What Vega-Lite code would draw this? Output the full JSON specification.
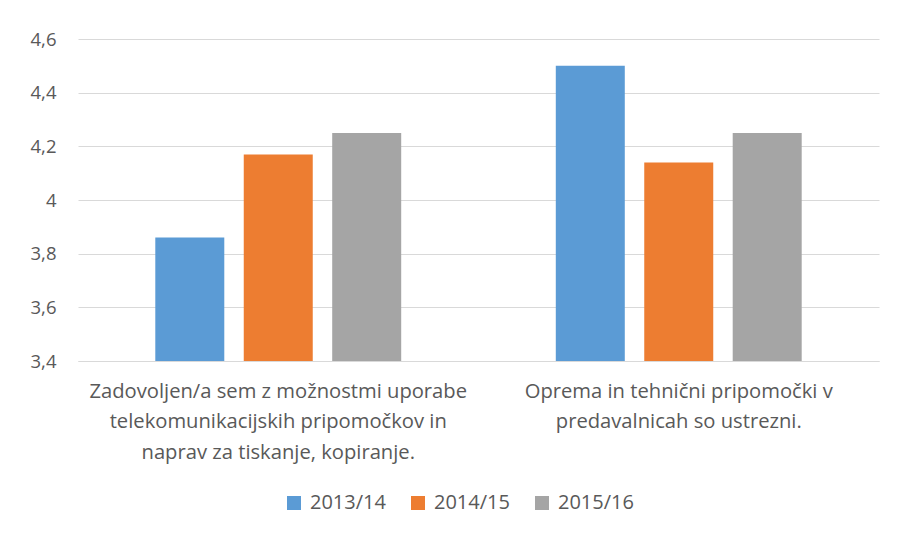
{
  "$schema": "https://vega.github.io/schema/vega-lite/v6.json",
  "width": 801,
  "height": 322,
  "autosize": "none",
  "padding": {"left": 78, "top": 39, "right": 18, "bottom": 174},
  "background": "white",
  "config": {"view": {"stroke": null}, "font": "Open Sans"},
  "data": {"values": [
    {"trditev": "Zadovoljen/a sem z možnostmi uporabe telekomunikacijskih pripomočkov in naprav za tiskanje, kopiranje.", "leto": "2013/14", "ocena": 3.86},
    {"trditev": "Zadovoljen/a sem z možnostmi uporabe telekomunikacijskih pripomočkov in naprav za tiskanje, kopiranje.", "leto": "2014/15", "ocena": 4.17},
    {"trditev": "Zadovoljen/a sem z možnostmi uporabe telekomunikacijskih pripomočkov in naprav za tiskanje, kopiranje.", "leto": "2015/16", "ocena": 4.25},
    {"trditev": "Oprema in tehnični pripomočki v predavalnicah so ustrezni.", "leto": "2013/14", "ocena": 4.5},
    {"trditev": "Oprema in tehnični pripomočki v predavalnicah so ustrezni.", "leto": "2014/15", "ocena": 4.14},
    {"trditev": "Oprema in tehnični pripomočki v predavalnicah so ustrezni.", "leto": "2015/16", "ocena": 4.25}
  ]},
  "mark": {"type": "bar", "clip": true},
  "encoding": {
    "x": {
      "field": "trditev", "type": "nominal", "sort": null,
      "scale": {"paddingInner": 0.386, "paddingOuter": 0.193},
      "axis": {
        "title": null, "labelAngle": 0, "ticks": false, "domainColor": "#d9d9d9", "domainWidth": 1,
        "labelFont": "Open Sans", "labelFontSize": 20.2, "labelColor": "#595959", "labelPadding": 30,
        "labelLineHeight": 30.5, "labelLimit": 0, "labelBaseline": "middle",
        "labelExpr": "datum.value == 'Oprema in tehnični pripomočki v predavalnicah so ustrezni.' ? ['Oprema in tehnični pripomočki v', 'predavalnicah so ustrezni.'] : ['Zadovoljen/a sem z možnostmi uporabe', 'telekomunikacijskih pripomočkov in', 'naprav za tiskanje, kopiranje.']"
      }
    },
    "xOffset": {"field": "leto", "type": "nominal", "scale": {"paddingInner": 0.22, "paddingOuter": 0}},
    "y": {
      "field": "ocena", "type": "quantitative",
      "scale": {"domain": [3.4, 4.6], "zero": false, "nice": false},
      "axis": {
        "title": null, "values": [3.4, 3.6, 3.8, 4.0, 4.2, 4.4, 4.6],
        "labelExpr": "replace(format(datum.value, '.1~f'), '.', ',')",
        "ticks": false, "domain": false, "gridColor": "#d9d9d9", "gridWidth": 1,
        "labelFont": "Open Sans", "labelFontSize": 18.5, "labelColor": "#595959", "labelPadding": 22
      }
    },
    "color": {
      "field": "leto", "type": "nominal",
      "scale": {"domain": ["2013/14", "2014/15", "2015/16"], "range": ["#5B9BD5", "#ED7D31", "#A5A5A5"]},
      "legend": {
        "title": null, "orient": "none", "direction": "horizontal", "legendX": 206, "legendY": 454,
        "symbolType": "square", "symbolSize": 196, "symbolStrokeWidth": 0, "symbolOpacity": 1,
        "labelFont": "Open Sans", "labelFontSize": 20, "labelColor": "#595959", "labelOffset": 6,
        "columnPadding": 22, "padding": 0
      }
    }
  }
}
